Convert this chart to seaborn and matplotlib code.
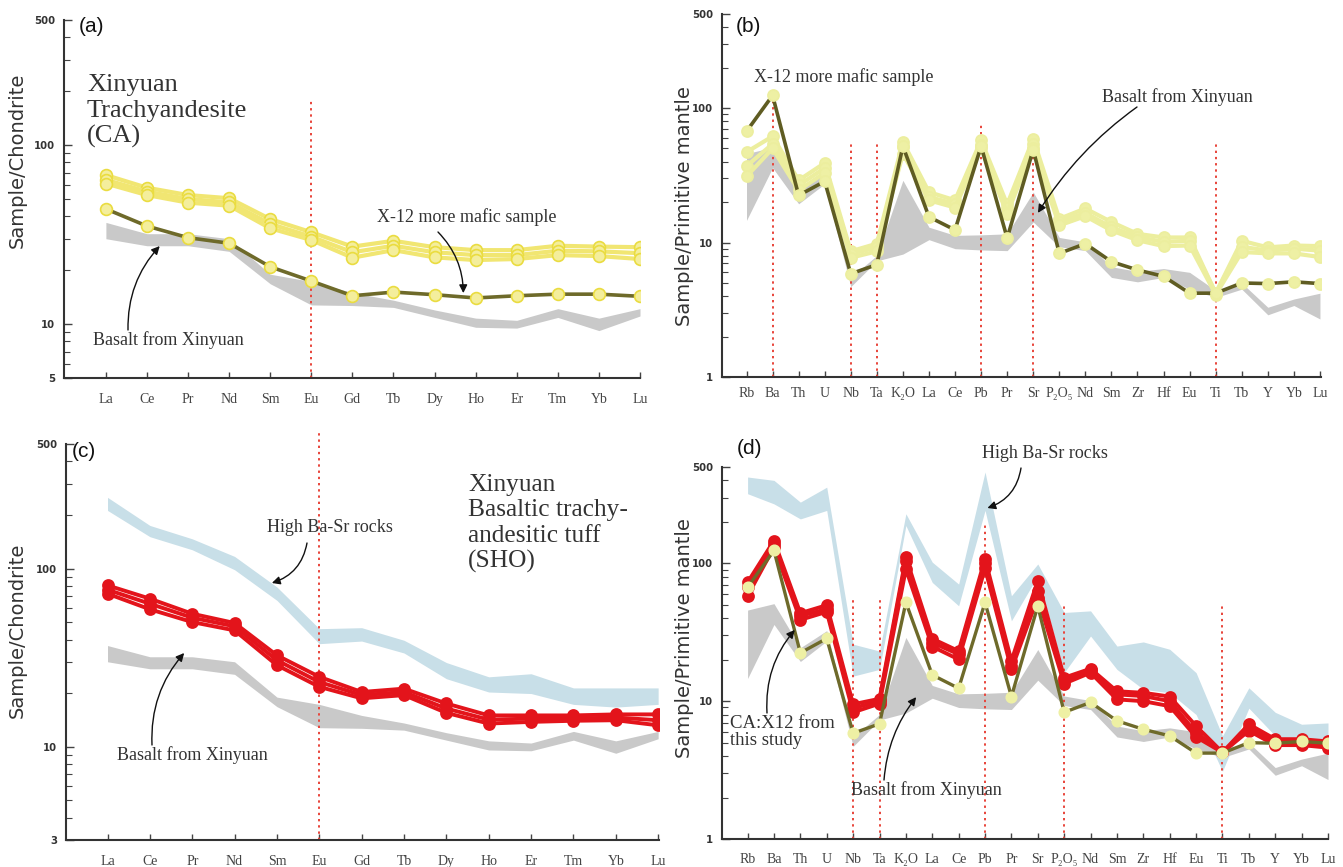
import numpy as np
import pandas as pd
import matplotlib
matplotlib.use("Agg")
import matplotlib.pyplot as plt
import seaborn as sns
from matplotlib.ticker import FixedLocator, FixedFormatter, LogLocator, NullFormatter

# ---------------- data ----------------
REE = ["La", "Ce", "Pr", "Nd", "Sm", "Eu", "Gd", "Tb", "Dy", "Ho", "Er", "Tm", "Yb", "Lu"]
SPIDER = ["Rb", "Ba", "Th", "U", "Nb", "Ta", "K₂O", "La", "Ce", "Pb", "Pr", "Sr", "P₂O₅",
          "Nd", "Sm", "Zr", "Hf", "Eu", "Ti", "Tb", "Y", "Yb", "Lu"]

# Chondrite-normalised REE
ca_ree_1 = [68, 57.8, 52.6, 50.5, 38.6, 32.6, 27.1, 29.2, 26.9, 25.9, 25.9, 27.4, 27.1, 26.9]
ca_ree_2 = [64, 55.0, 50.0, 47.9, 36.3, 30.8, 25.2, 27.4, 25.2, 24.3, 24.3, 25.7, 25.5, 24.9]
ca_ree_3 = [61, 52.6, 47.7, 45.9, 34.3, 29.5, 23.5, 25.9, 23.6, 22.8, 23.1, 24.3, 24.0, 23.1]
x12_ree = [44, 35.3, 30.4, 28.3, 20.9, 17.4, 14.4, 15.1, 14.6, 14.0, 14.4, 14.7, 14.7, 14.3]
sho_ree_1 = [80.5, 67.8, 55.8, 49.5, 32.6, 24.7, 20.3, 21.2, 17.5, 15.0, 15.0, 15.0, 15.2, 15.2]
sho_ree_2 = [76.1, 63.5, 53.0, 47.4, 30.6, 23.1, 19.5, 20.3, 16.4, 14.2, 14.4, 14.4, 14.6, 14.1]
sho_ree_3 = [72.3, 59.1, 50.1, 45.0, 28.7, 21.7, 18.7, 19.5, 15.5, 13.5, 13.8, 14.0, 14.1, 13.2]
basalt_ree_hi = [37, 32.0, 32.0, 30.0, 19.0, 17.3, 15.0, 13.6, 12.0, 10.8, 10.5, 12.2, 10.8, 12.2]
basalt_ree_lo = [30, 27.4, 27.4, 25.5, 16.8, 12.8, 12.7, 12.4, 10.9, 9.6, 9.5, 10.9, 9.2, 11.1]
hbs_ree_hi = [251, 174.6, 146.9, 117, 78.8, 46.0, 46.6, 39.6, 29.7, 24.7, 25.7, 21.4, 21.4, 21.4]
hbs_ree_lo = [212, 151, 127.5, 98.5, 66.3, 37.9, 39.2, 33.6, 24.1, 20.3, 19.9, 17.3, 16.7, 17.3]

# Primitive-mantle-normalised trace elements
x12_pm = [67, 124, 22.4, 28.5, 5.85, 6.85, 52, 15.5, 12.4, 52, 10.8, 49, 8.3, 9.8, 7.2, 6.25,
          5.6, 4.2, 4.2, 5.0, 4.95, 5.1, 4.95]
ca_pm_1 = [47, 61.6, 29, 39, 8.6, 9.8, 55.9, 23.7, 20.6, 57.5, 19.2, 59, 15.0, 17.9, 14.2, 11.6,
           10.9, 10.9, 4.2, 10.3, 9.2, 9.5, 9.4]
ca_pm_2 = [37, 54, 26.6, 35.8, 8.2, 9.2, 51.3, 21.8, 19.4, 53.4, 17.9, 54, 14.2, 16.6, 13.0, 11.0,
           10.1, 10.3, 4.2, 9.3, 8.7, 9.0, 8.7]
ca_pm_3 = [31, 50, 24.4, 33, 7.7, 8.6, 45.7, 20.6, 18.2, 50, 16.4, 50, 13.4, 15.7, 12.3, 10.4,
           9.4, 9.5, 4.1, 8.5, 8.3, 8.3, 7.8]
sho_pm_1 = [72.7, 146, 43.5, 49.7, 9.5, 10.4, 110.6, 28.4, 23.1, 107.6, 19.6, 74.8, 14.8, 17.2,
            11.8, 11.5, 10.8, 6.6, 4.25, 6.8, 5.3, 5.3, 5.1]
sho_pm_2 = [66.9, 138, 41.6, 46.5, 8.9, 10.0, 104.5, 26.6, 21.9, 100, 18.0, 63.2, 14.0, 16.8,
            11.2, 10.9, 10.0, 5.9, 4.25, 6.4, 5.0, 5.0, 4.8]
sho_pm_3 = [58.2, 131, 38.9, 44.5, 8.3, 9.6, 90.9, 24.9, 20.1, 92, 17.0, 56.5, 13.4, 16.1,
            10.3, 10.0, 9.2, 5.5, 4.25, 6.1, 4.8, 4.8, 4.6]
basalt_pm_hi = [45.8, 51, 24.4, 32.5, 5.5, 8.0, 29, 13.0, 11.3, 11.4, 11.6, 23.7, 10.9, 10.1,
                6.6, 6.1, 6.4, 6.0, 4.4, 5.0, 3.3, 3.8, 4.2]
basalt_pm_lo = [14.6, 36, 19.4, 27.3, 4.7, 7.3, 8.2, 10.5, 9.0, 8.8, 8.7, 14.2, 9.3, 8.7,
                5.5, 5.1, 5.5, 4.5, 3.9, 4.5, 2.9, 3.4, 2.7]
hbs_pm_hi = [423, 400, 278, 357, 25.9, 23.1, 229, 102, 70.7, 460, 58.2, 98.9, 44, 45.2, 25.1,
             26.9, 23.8, 16.1, 5.6, 12.5, 8.3, 6.8, 6.95]
hbs_pm_lo = [320, 270, 210, 242, 15.2, 17.0, 188, 72.7, 49.2, 242, 38.3, 81.3, 16.1, 29.7, 17,
             12.2, 11.5, 8.0, 3.1, 8.9, 5.6, 4.45, 5.1]

# ---------------- style ----------------
sns.set_theme(style="ticks")
plt.rcParams["font.family"] = ["DejaVu Sans"]
SERIF = ["Liberation Serif", "DejaVu Serif"]
SANS = ["Liberation Sans", "DejaVu Sans"]

W, H = 1343, 867
fig = plt.figure(figsize=(W / 100, H / 100), dpi=100)
fig.patch.set_facecolor("white")


def add_ax(l, t, r, b):
    return fig.add_axes([l / W, 1 - b / H, (r - l) / W, (b - t) / H])


def long_df(samples):
    rows = []
    for name, vals in samples.items():
        for i, v in enumerate(vals):
            rows.append((name, i, v))
    return pd.DataFrame(rows, columns=["sample", "pos", "value"])


def draw_lines(ax, samples, color, lw, mface, medge, ms, z):
    df = long_df(samples)
    sns.lineplot(data=df, x="pos", y="value", units="sample", estimator=None,
                 color=color, lw=lw, marker="o", markersize=ms,
                 markerfacecolor=mface, markeredgecolor=medge, markeredgewidth=1.2,
                 ax=ax, legend=False, zorder=z)


def band(ax, lo, hi, color, z=1):
    x = np.arange(len(lo))
    ax.fill_between(x, lo, hi, color=color, lw=0, zorder=z)


def style(ax, ylim, yticks, xlabels, xlim, xpad):
    ax.set_yscale("log")
    ax.set_ylim(*ylim)
    ax.set_xlim(*xlim)
    ax.yaxis.set_major_locator(FixedLocator(yticks))
    ax.yaxis.set_major_formatter(FixedFormatter([str(t) for t in yticks]))
    ax.yaxis.set_minor_locator(LogLocator(base=10, subs=np.arange(2, 10), numticks=20))
    ax.yaxis.set_minor_formatter(NullFormatter())
    ax.set_xticks(np.arange(len(xlabels)))
    ax.set_xticklabels(xlabels)
    for lab in ax.get_xticklabels():
        lab.set_fontfamily(SERIF)
        lab.set_fontsize(10)
        lab.set_color("#444444")
    for lab in ax.get_yticklabels():
        lab.set_fontweight("bold")
        lab.set_fontsize(7.3)
        lab.set_color("#333333")
    ax.tick_params(axis="x", which="major", direction="in", length=4, width=1,
                   color="#444444", pad=xpad)
    ax.tick_params(axis="x", which="minor", bottom=False)
    ax.tick_params(axis="y", which="major", direction="in", length=6, width=1,
                   color="#444444", pad=6.5)
    ax.tick_params(axis="y", which="minor", direction="in", length=4, width=0.8,
                   color="#444444")
    for s in ["top", "right"]:
        ax.spines[s].set_visible(False)
    for s in ["left", "bottom"]:
        ax.spines[s].set_color("#333333")
        ax.spines[s].set_linewidth(1.5)
    ax.set_xlabel("")
    ax.set_ylabel("")
    ax.set_facecolor("none")


def vdot(ax, pos, top, clip=True):
    ax.axvline(pos, ymin=0, ymax=top, color="#e8443a", ls=(0, (1.2, 2.0)), lw=1.4,
               zorder=2, clip_on=clip)


def ftxt(px, py, s, **kw):
    fig.text(px / W, 1 - py / H, s, **kw)


def arrow(ax, tip, start_px, rad):
    ax.annotate("", xy=tip, xycoords="data",
                xytext=(start_px[0] / W, 1 - start_px[1] / H), textcoords="figure fraction",
                arrowprops=dict(arrowstyle="-|>", color="#111111", lw=1.0,
                                connectionstyle=f"arc3,rad={rad}", mutation_scale=12,
                                shrinkA=0, shrinkB=0), zorder=10)


YEL_LINE = "#f1e672"
YEL_FACE = "#f4ee9c"
YEL_EDGE = "#eadc40"
PALE_LINE = "#ecee9e"
PALE_FACE = "#eef0a4"
OLIVE = "#6e6a2a"
RED = "#e3141b"
GRAY = "#c9c9c9"
BLUE = "#c8dfe8"
TXT = "#333333"

# ---------------- panel (a) ----------------
ax_a = add_ax(64, 20, 640, 378)
band(ax_a, basalt_ree_lo, basalt_ree_hi, GRAY)
vdot(ax_a, 5, 0.782)
draw_lines(ax_a, {"CA-1": ca_ree_1, "CA-2": ca_ree_2, "CA-3": ca_ree_3},
           YEL_LINE, 3, YEL_FACE, YEL_EDGE, 8.5, 3)
draw_lines(ax_a, {"X-12": x12_ree}, OLIVE, 2.6, YEL_FACE, YEL_EDGE, 8.5, 4)
style(ax_a, (5, 500), [5, 10, 100, 500], REE, (-1.02, 13.0), 11)

# ---------------- panel (b) ----------------
ax_b = add_ax(722, 14, 1321, 377)
band(ax_b, basalt_pm_lo, basalt_pm_hi, GRAY)
for p, t in [(1, 0.763), (4, 0.647), (5, 0.647), (9, 0.70), (11, 0.647), (18, 0.647)]:
    vdot(ax_b, p, t)
draw_lines(ax_b, {"CA-1": ca_pm_1, "CA-2": ca_pm_2, "CA-3": ca_pm_3},
           PALE_LINE, 3, PALE_FACE, PALE_LINE, 8, 3)
draw_lines(ax_b, {"X-12": x12_pm}, "#5f5c22", 2.6, PALE_FACE, PALE_LINE, 8, 4)
style(ax_b, (1, 500), [1, 10, 100, 500], SPIDER, (-0.94, 22.04), 7)

# ---------------- panel (c) ----------------
ax_c = add_ax(66, 444, 659, 840)
band(ax_c, hbs_ree_lo, hbs_ree_hi, BLUE)
band(ax_c, basalt_ree_lo, basalt_ree_hi, GRAY)
vdot(ax_c, 5, 1.03, clip=False)
draw_lines(ax_c, {"S1": sho_ree_1, "S2": sho_ree_2, "S3": sho_ree_3},
           RED, 2.8, RED, RED, 8, 3)
style(ax_c, (3, 500), [3, 10, 100, 500], REE, (-0.98, 13.02), 10.5)

# ---------------- panel (d) ----------------
ax_d = add_ax(722, 467, 1328, 839)
band(ax_d, hbs_pm_lo, hbs_pm_hi, BLUE)
band(ax_d, basalt_pm_lo, basalt_pm_hi, GRAY)
for p, t in [(4, 0.642), (5, 0.642), (9, 0.847), (12, 0.635), (18, 0.635)]:
    vdot(ax_d, p, t)
draw_lines(ax_d, {"S1": sho_pm_1, "S2": sho_pm_2, "S3": sho_pm_3},
           RED, 2.8, RED, RED, 8, 3)
draw_lines(ax_d, {"X-12": x12_pm}, OLIVE, 2.4, PALE_FACE, PALE_FACE, 7.5, 4)
style(ax_d, (1, 500), [1, 10, 100, 500], SPIDER, (-0.97, 22.0), 10)

# ---------------- texts ----------------
ftxt(17, 160, "Sample/Chondrite", rotation=90, ha="center", va="center", fontsize=14, color=TXT)
ftxt(684, 206, "Sample/Primitive mantle", rotation=90, ha="center", va="center", fontsize=14, color=TXT)
ftxt(17, 630, "Sample/Chondrite", rotation=90, ha="center", va="center", fontsize=14, color=TXT)
ftxt(684, 638, "Sample/Primitive mantle", rotation=90, ha="center", va="center", fontsize=14, color=TXT)

for px, py, s in [(91, 26, "(a)"), (748, 26, "(b)"), (84, 452, "(c)"), (750, 449, "(d)")]:
    ftxt(px, py, s, ha="center", va="center", fontsize=15, family=SANS, color="#111111")

ftxt(87, 143, "Xinyuan\nTrachyandesite\n(CA)", ha="left", va="baseline", fontsize=19,
     family=SERIF, color=TXT, linespacing=1.2)
ftxt(468, 568, "Xinyuan\nBasaltic trachy-\nandesitic tuff\n(SHO)", ha="left", va="baseline",
     fontsize=18.3, family=SERIF, color=TXT, linespacing=1.2)

lab = dict(ha="left", va="center", fontsize=13, family=SERIF, color=TXT)
ftxt(377, 217, "X-12 more mafic sample", **lab)
ftxt(93, 340, "Basalt from Xinyuan", **lab)
ftxt(754, 77, "X-12 more mafic sample", **lab)
ftxt(1102, 97, "Basalt from Xinyuan", **lab)
ftxt(267, 528, "High Ba-Sr rocks", **lab)
ftxt(117, 755, "Basalt from Xinyuan", **lab)
ftxt(982, 453, "High Ba-Sr rocks", **lab)
ftxt(851, 790, "Basalt from Xinyuan", **lab)
ftxt(730, 732, "CA:X12 from\nthis study", ha="left", va="center", fontsize=13.5,
     family=SERIF, color=TXT, linespacing=1.05)

arrow(ax_a, (8.7, 14.9), (438, 232), -0.2)
arrow(ax_a, (1.31, 27.3), (128, 330), -0.2)
arrow(ax_b, (11.18, 16.6), (1137, 107), 0.1)
arrow(ax_c, (3.88, 83), (307, 543), -0.3)
arrow(ax_c, (1.81, 33.6), (152, 745), -0.2)
arrow(ax_d, (9.09, 252), (1021, 468), -0.3)
arrow(ax_d, (1.79, 32.9), (767, 713), -0.2)
arrow(ax_d, (6.39, 10.7), (884, 780), -0.15)

fig.savefig("out.png", dpi=100, facecolor="white")
